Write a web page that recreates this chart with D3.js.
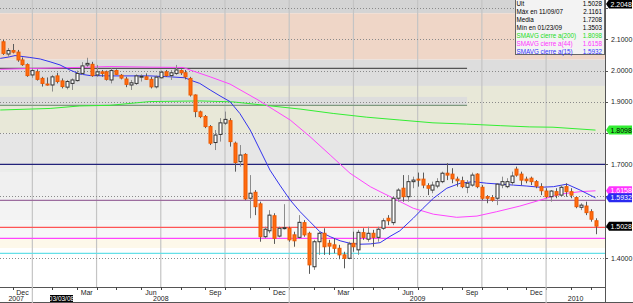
<!DOCTYPE html>
<html>
<head>
<meta charset="utf-8">
<script src="https://cdn.jsdelivr.net/npm/d3@7"></script>
<style>
body { margin: 0; background: #fff; }
svg { display: block; font-family: "Liberation Sans", Arial, sans-serif; }
</style>
</head>
<body>
<svg id="chart" width="633" height="303"></svg>
<script>
// weekly candles (Friday dates)
var firstWeek = new Date(2007, 10, 16);
var lastWeek = new Date(2010, 2, 6);

var opens = [2.092,2.053,2.064,2.059,2.034,2.019,1.986,1.996,1.975,1.957,
  1.954,1.983,1.967,1.947,1.959,1.968,1.991,2.018,2.020,1.986,
  1.996,1.996,1.970,2.000,1.985,1.973,1.954,1.959,1.980,1.980,
  1.972,1.948,1.977,1.996,1.984,1.991,2.000,1.993,1.975,1.922,
  1.868,1.853,1.821,1.770,1.796,1.832,1.840,1.768,1.709,1.732,
  1.592,1.611,1.574,1.469,1.488,1.536,1.471,1.495,1.496,1.475,
  1.467,1.514,1.480,1.373,1.453,1.480,1.448,1.443,1.432,1.411,
  1.400,1.448,1.427,1.482,1.461,1.480,1.467,1.496,1.528,1.514,
  1.592,1.624,1.597,1.645,1.653,1.653,1.632,1.618,1.631,1.645,
  1.672,1.669,1.653,1.648,1.627,1.634,1.669,1.627,1.597,1.594,
  1.592,1.634,1.629,1.642,1.685,1.669,1.653,1.656,1.645,1.629,
  1.615,1.597,1.613,1.602,1.629,1.613,1.594,1.563,1.567,1.549,
  1.520];
var highs = [2.098,2.072,2.085,2.066,2.042,2.023,2.007,2.004,1.980,1.978,
  1.986,1.993,1.975,1.970,1.975,2.000,2.027,2.041,2.028,2.018,
  2.002,2.000,2.007,2.004,1.989,1.980,1.970,1.988,1.988,1.991,
  1.980,1.984,2.000,2.002,2.002,2.018,2.004,2.002,1.980,1.924,
  1.872,1.858,1.826,1.810,1.848,1.869,1.848,1.773,1.762,1.736,
  1.666,1.618,1.581,1.501,1.554,1.544,1.501,1.573,1.501,1.485,
  1.538,1.522,1.485,1.459,1.485,1.496,1.459,1.464,1.443,1.421,
  1.453,1.485,1.491,1.496,1.501,1.491,1.501,1.528,1.538,1.597,
  1.624,1.666,1.666,1.661,1.674,1.674,1.640,1.645,1.656,1.677,
  1.704,1.688,1.661,1.661,1.650,1.674,1.672,1.634,1.602,1.602,
  1.640,1.661,1.656,1.677,1.693,1.677,1.661,1.661,1.650,1.640,
  1.624,1.618,1.624,1.634,1.640,1.624,1.597,1.576,1.581,1.557,
  1.528];
var lows = [2.050,2.044,2.055,2.028,2.015,1.980,1.977,1.968,1.949,1.952,
  1.933,1.959,1.943,1.940,1.938,1.965,1.986,2.012,1.980,1.980,
  1.980,1.968,1.959,1.986,1.972,1.947,1.938,1.954,1.965,1.970,
  1.943,1.943,1.975,1.980,1.970,1.986,1.986,1.972,1.917,1.851,
  1.848,1.816,1.762,1.746,1.773,1.826,1.757,1.677,1.693,1.586,
  1.528,1.538,1.453,1.464,1.480,1.446,1.467,1.492,1.453,1.437,
  1.464,1.469,1.3503,1.363,1.411,1.411,1.411,1.416,1.397,1.368,
  1.397,1.421,1.411,1.459,1.453,1.437,1.453,1.491,1.506,1.506,
  1.581,1.581,1.581,1.624,1.629,1.624,1.602,1.608,1.624,1.640,
  1.650,1.640,1.629,1.624,1.608,1.629,1.624,1.586,1.576,1.581,
  1.570,1.624,1.624,1.634,1.661,1.634,1.640,1.634,1.624,1.602,
  1.592,1.581,1.592,1.597,1.597,1.592,1.560,1.554,1.538,1.517,
  1.477];
var closes = [2.055,2.064,2.059,2.034,2.019,1.984,2.000,1.972,1.959,1.955,
  1.980,1.965,1.949,1.965,1.970,1.991,2.015,2.023,1.984,1.996,
  1.991,1.972,2.000,1.988,1.976,1.956,1.961,1.983,1.982,1.972,
  1.948,1.979,1.995,1.984,1.993,2.002,1.993,1.980,1.922,1.869,
  1.853,1.821,1.768,1.794,1.833,1.844,1.773,1.706,1.730,1.590,
  1.608,1.565,1.469,1.493,1.538,1.464,1.496,1.498,1.459,1.456,
  1.515,1.475,1.379,1.453,1.480,1.437,1.439,1.432,1.411,1.400,
  1.446,1.437,1.483,1.467,1.480,1.467,1.493,1.520,1.520,1.592,
  1.618,1.597,1.645,1.650,1.650,1.634,1.624,1.634,1.645,1.672,
  1.666,1.654,1.648,1.629,1.640,1.666,1.629,1.592,1.592,1.586,
  1.637,1.645,1.645,1.663,1.666,1.650,1.648,1.645,1.631,1.616,
  1.597,1.615,1.602,1.627,1.613,1.602,1.565,1.570,1.546,1.525,
  1.5028];

// moving averages (position in weeks, value)
var ma15Pos = [-0.5,1.1,2.5,5.5,7.6,9.6,11.6,13.6,15.6,17.7,21.7,29.8,33.9,36.9,37.9,39.9,42,44,46,48,50.1,52.1,54.1,56.1,58.2,60.2,62.2,64.2,66.3,68.3,70.3,72.3,74.4,76.4,78.4,80.4,83.1,85.1,87.2,89.9,92.6,95.3,98,100.7,103.4,106.1,108.8,111.5,114.2,116.9,120];
var ma15 = [2.039,2.043,2.048,2.042,2.037,2.028,2.018,2.002,1.989,1.984,1.983,1.983,1.980,1.977,1.970,1.959,1.938,1.919,1.901,1.863,1.810,1.746,1.682,1.634,1.586,1.549,1.517,1.485,1.469,1.456,1.448,1.445,1.446,1.450,1.470,1.488,1.528,1.560,1.592,1.624,1.640,1.645,1.640,1.637,1.634,1.631,1.627,1.629,1.637,1.618,1.5932];
var ma44Pos = [-0.5,6.1,15,21.7,29.8,36.5,37.9,42,46,51.7,58.2,62.2,66.3,70.3,74.4,76.4,79.1,83.1,87.2,91.9,96,100,104.7,108.8,112.8,116.9,120];
var ma44 = [2.004,2.007,2.010,2.013,2.011,2.010,2.002,1.980,1.957,1.906,1.842,1.789,1.730,1.672,1.629,1.613,1.592,1.560,1.541,1.531,1.535,1.549,1.567,1.586,1.605,1.613,1.6158];
var ma200Pos = [-0.5,9.6,15.6,21.7,29.8,39.9,46.6,60.2,66.9,73.7,80.4,87.1,93.9,100.7,106.7,111.4,120];
var ma200 = [1.874,1.879,1.887,1.889,1.901,1.903,1.900,1.877,1.863,1.851,1.842,1.833,1.829,1.824,1.820,1.819,1.8098];

// background zones and reference levels
var zoneEdges = [2.2256,2.183,2.035,1.951,1.800,1.700,1.676,1.586,1.522,1.465,1.433,1.3083];
var zoneColors = ["#d4d4d4","#efd6c7","#dddddd","#e8e8d8","#e6e6e6","#ececec","#f0f0f0","#f3f3f3","#f7f7f7","#fdf8ea","#ffffff"];
var levels = [1.700, 1.585, 1.499, 1.464, 1.416];
var levelColors = ["#22227a", "#9c6c9e", "#ff5555", "#ff44ff", "#66e0e8"];
var channelTop = 2.007, channelBottom = 1.889, channelStripe = 1.916, channelEnd = 94;

var yTicks = [2.2, 2.1, 2.0, 1.9, 1.8, 1.7, 1.6, 1.5, 1.4];
var yLabels = ["2.1000", "2.0000", "1.9000", "1.7000", "1.4000"];
var showMonths = [2, 5, 8, 11];
var monthNames = ["Jan","Feb","Mar","Apr","May","Jun","Jul","Aug","Sep","Oct","Nov","Dec"];

var legendNames = ["Ult", "Máx en 11/09/07", "Media", "Mín en 01/23/09", "SMAVG cierre a(200)", "SMAVG cierre a(44)", "SMAVG cierre a(15)"];
var legendValues = ["1.5028", "2.1161", "1.7208", "1.3503", "1.8098", "1.6158", "1.5932"];
var legendColors = ["#000", "#000", "#000", "#000", "#22dd22", "#ff33ff", "#3333ff"];

var plotRight = 605, plotBottom = 287;
var svg = d3.select("#chart");

var dates = d3.timeFriday.range(firstWeek, lastWeek);
var x = d3.scaleLinear().domain([0, dates.length - 1]).range([2.7, 595.5]);
var y = d3.scaleLinear().domain([1.3083, 2.2256]).range([plotBottom, 0]);

svg.append("defs").append("clipPath").attr("id", "plotclip")
  .append("rect").attr("x", 0).attr("y", 0).attr("width", plotRight).attr("height", plotBottom);

var plot = svg.append("g").attr("clip-path", "url(#plotclip)");

// zones
plot.selectAll("rect.zone")
  .data(zoneColors)
  .enter().append("rect")
  .attr("class", "zone")
  .attr("x", 0)
  .attr("width", plotRight)
  .attr("y", (d, i) => y(zoneEdges[i]))
  .attr("height", (d, i) => y(zoneEdges[i + 1]) - y(zoneEdges[i]))
  .attr("fill", d => d);

plot.append("rect")
  .attr("x", 0).attr("width", x(channelEnd))
  .attr("y", y(channelStripe)).attr("height", y(channelBottom) - y(channelStripe))
  .attr("fill", "#dddddd");

// month boundaries = last candle of each month
var monthEnds = [];
dates.forEach(function(d, i) {
  var next = dates[i + 1];
  if (next && next.getMonth() !== d.getMonth()) monthEnds.push(i);
});
monthEnds.push(dates.length - 1);

var quarterEnds = monthEnds.filter(i => dates[i].getMonth() % 3 === 2 && i < dates.length - 1);

plot.selectAll("line.vgrid")
  .data(quarterEnds)
  .enter().append("line")
  .attr("x1", d => x(d)).attr("x2", d => x(d))
  .attr("y1", 0).attr("y2", plotBottom)
  .attr("stroke", "#c4c4c4").attr("stroke-width", 1.2);

// dotted grid
plot.selectAll("line.hgrid")
  .data(yTicks)
  .enter().append("line")
  .attr("x1", 0).attr("x2", plotRight)
  .attr("y1", d => Math.round(y(d)) + 0.5).attr("y2", d => Math.round(y(d)) + 0.5)
  .attr("stroke", "#8a8a8a").attr("stroke-dasharray", "1,2");

// channel lines
plot.append("line")
  .attr("x1", 0).attr("x2", x(channelEnd))
  .attr("y1", y(channelTop)).attr("y2", y(channelTop))
  .attr("stroke", "#555").attr("stroke-width", 1.2);
plot.append("line")
  .attr("x1", 0).attr("x2", x(channelEnd))
  .attr("y1", y(channelBottom)).attr("y2", y(channelBottom))
  .attr("stroke", "#7f9a7f").attr("stroke-width", 1.2);

plot.selectAll("line.level")
  .data(levels)
  .enter().append("line")
  .attr("x1", 0).attr("x2", plotRight)
  .attr("y1", d => y(d)).attr("y2", d => y(d))
  .attr("stroke", (d, i) => levelColors[i]).attr("stroke-width", 1.3);

// moving averages
function maLine(pos, vals, color) {
  var line = d3.line().x((d, i) => x(pos[i])).y(d => y(d));
  plot.append("path").datum(vals)
    .attr("d", line)
    .attr("fill", "none")
    .attr("stroke", color)
    .attr("stroke-width", 1);
}
maLine(ma200Pos, ma200, "#33ee33");
maLine(ma44Pos, ma44, "#ff44ff");
maLine(ma15Pos, ma15, "#3434ee");

// candles
var candles = plot.selectAll("g.candle")
  .data(dates)
  .enter().append("g");

candles.append("line")
  .attr("x1", (d, i) => Math.round(x(i)) + 0.5)
  .attr("x2", (d, i) => Math.round(x(i)) + 0.5)
  .attr("y1", (d, i) => y(highs[i]))
  .attr("y2", (d, i) => y(lows[i]))
  .attr("stroke", (d, i) => closes[i] >= opens[i] ? "#8c8c8c" : "#5a5a5a")
  .attr("stroke-width", 1);

candles.append("rect")
  .attr("x", (d, i) => Math.round(x(i)) - 1)
  .attr("width", 3)
  .attr("y", (d, i) => y(Math.max(opens[i], closes[i])))
  .attr("height", (d, i) => Math.max(1, Math.abs(y(opens[i]) - y(closes[i]))))
  .attr("fill", (d, i) => closes[i] >= opens[i] ? "#ffffff" : "#ff6a10")
  .attr("stroke", (d, i) => closes[i] >= opens[i] ? "#333333" : "#ee5a00")
  .attr("stroke-width", 1);

// right axis
svg.append("line")
  .attr("x1", plotRight + 0.5).attr("x2", plotRight + 0.5)
  .attr("y1", 0).attr("y2", 303)
  .attr("stroke", "#555");

svg.selectAll("line.ytick")
  .data(yTicks)
  .enter().append("line")
  .attr("x1", plotRight).attr("x2", plotRight + 3)
  .attr("y1", d => Math.round(y(d)) + 0.5).attr("y2", d => Math.round(y(d)) + 0.5)
  .attr("stroke", "#555");

svg.selectAll("text.ylab")
  .data(yLabels)
  .enter().append("text")
  .attr("x", 611)
  .attr("y", d => y(+d) + 2.5)
  .attr("font-size", 7)
  .attr("fill", "#222")
  .text(d => d);

function axisFlag(v, label, fill, textColor) {
  var cy = y(v);
  svg.append("path")
    .attr("d", "M606," + cy + " L609," + (cy - 4.5) + " L632," + (cy - 4.5) + " L632," + (cy + 4.5) + " L609," + (cy + 4.5) + "Z")
    .attr("fill", fill);
  svg.append("text")
    .attr("x", 610.5).attr("y", cy + 2.5)
    .attr("font-size", 7)
    .attr("fill", textColor)
    .text(label);
}
axisFlag(1.8098, "1.8098", "#33ee33", "#000");
axisFlag(1.6158, "1.6158", "#ff33ff", "#fff");
axisFlag(1.5932, "1.5932", "#2a2af0", "#fff");
axisFlag(1.5028, "1.5028", "#000", "#fff");
axisFlag(2.2128, "2.2048", "#000", "#fff");

// bottom axis
svg.append("line")
  .attr("x1", 0).attr("x2", plotRight)
  .attr("y1", plotBottom + 0.5).attr("y2", plotBottom + 0.5)
  .attr("stroke", "#555");
svg.append("line")
  .attr("x1", 0).attr("x2", 633)
  .attr("y1", 302.5).attr("y2", 302.5)
  .attr("stroke", "#555");

svg.selectAll("line.mtick")
  .data(monthEnds.slice(0, -1))
  .enter().append("line")
  .attr("x1", d => Math.round(x(d)) + 0.5).attr("x2", d => Math.round(x(d)) + 0.5)
  .attr("y1", plotBottom).attr("y2", plotBottom + 3)
  .attr("stroke", "#444");

var monthLabels = [];
for (var k = 1; k < monthEnds.length - 1; k++) {
  var m = dates[monthEnds[k]].getMonth();
  if (showMonths.indexOf(m) >= 0) {
    monthLabels.push({ name: monthNames[m], cx: (x(monthEnds[k - 1]) + x(monthEnds[k])) / 2 });
  }
}
svg.selectAll("text.month")
  .data(monthLabels)
  .enter().append("text")
  .attr("x", d => d.cx).attr("y", 294.5)
  .attr("text-anchor", "middle")
  .attr("font-size", 7)
  .attr("fill", "#222")
  .text(d => d.name);

var yearEnds = monthEnds.filter(i => dates[i].getMonth() === 11 && i < dates.length - 1);
svg.selectAll("line.year")
  .data(yearEnds)
  .enter().append("line")
  .attr("x1", d => x(d)).attr("x2", d => x(d))
  .attr("y1", plotBottom).attr("y2", 303)
  .attr("stroke", "#c4c4c4").attr("stroke-width", 1.2);

var yearBounds = [0].concat(yearEnds.map(i => x(i))).concat([plotRight]);
var yearLabels = [];
for (var j = 0; j < yearBounds.length - 1; j++) {
  yearLabels.push({ name: String(dates[0].getFullYear() + j), cx: (yearBounds[j] + yearBounds[j + 1]) / 2 });
}
svg.selectAll("text.year")
  .data(yearLabels)
  .enter().append("text")
  .attr("x", d => d.cx).attr("y", 301)
  .attr("text-anchor", "middle")
  .attr("font-size", 7)
  .attr("fill", "#222")
  .text(d => d.name);

// date marker
svg.append("rect").attr("x", 50).attr("y", 295).attr("width", 23).attr("height", 7).attr("fill", "#000");
svg.append("text").attr("x", 61.5).attr("y", 301).attr("text-anchor", "middle")
  .attr("font-size", 6.5).attr("fill", "#fff").text("03/03/08");

// legend box
var legend = svg.append("g");
legend.append("rect")
  .attr("x", 515.5).attr("y", -0.5).attr("width", 89).attr("height", 55)
  .attr("fill", "#f3f3f3").attr("stroke", "#666");
legend.selectAll("text.lname")
  .data(legendNames)
  .enter().append("text")
  .attr("x", 516.5).attr("y", (d, i) => 6.3 + i * 7.9)
  .attr("font-size", 6.3)
  .attr("fill", (d, i) => legendColors[i])
  .text(d => d);
legend.selectAll("text.lval")
  .data(legendValues)
  .enter().append("text")
  .attr("x", 602).attr("y", (d, i) => 6.3 + i * 7.9)
  .attr("text-anchor", "end")
  .attr("font-size", 6.3)
  .attr("fill", (d, i) => legendColors[i])
  .text(d => d);
</script>
</body>
</html>
